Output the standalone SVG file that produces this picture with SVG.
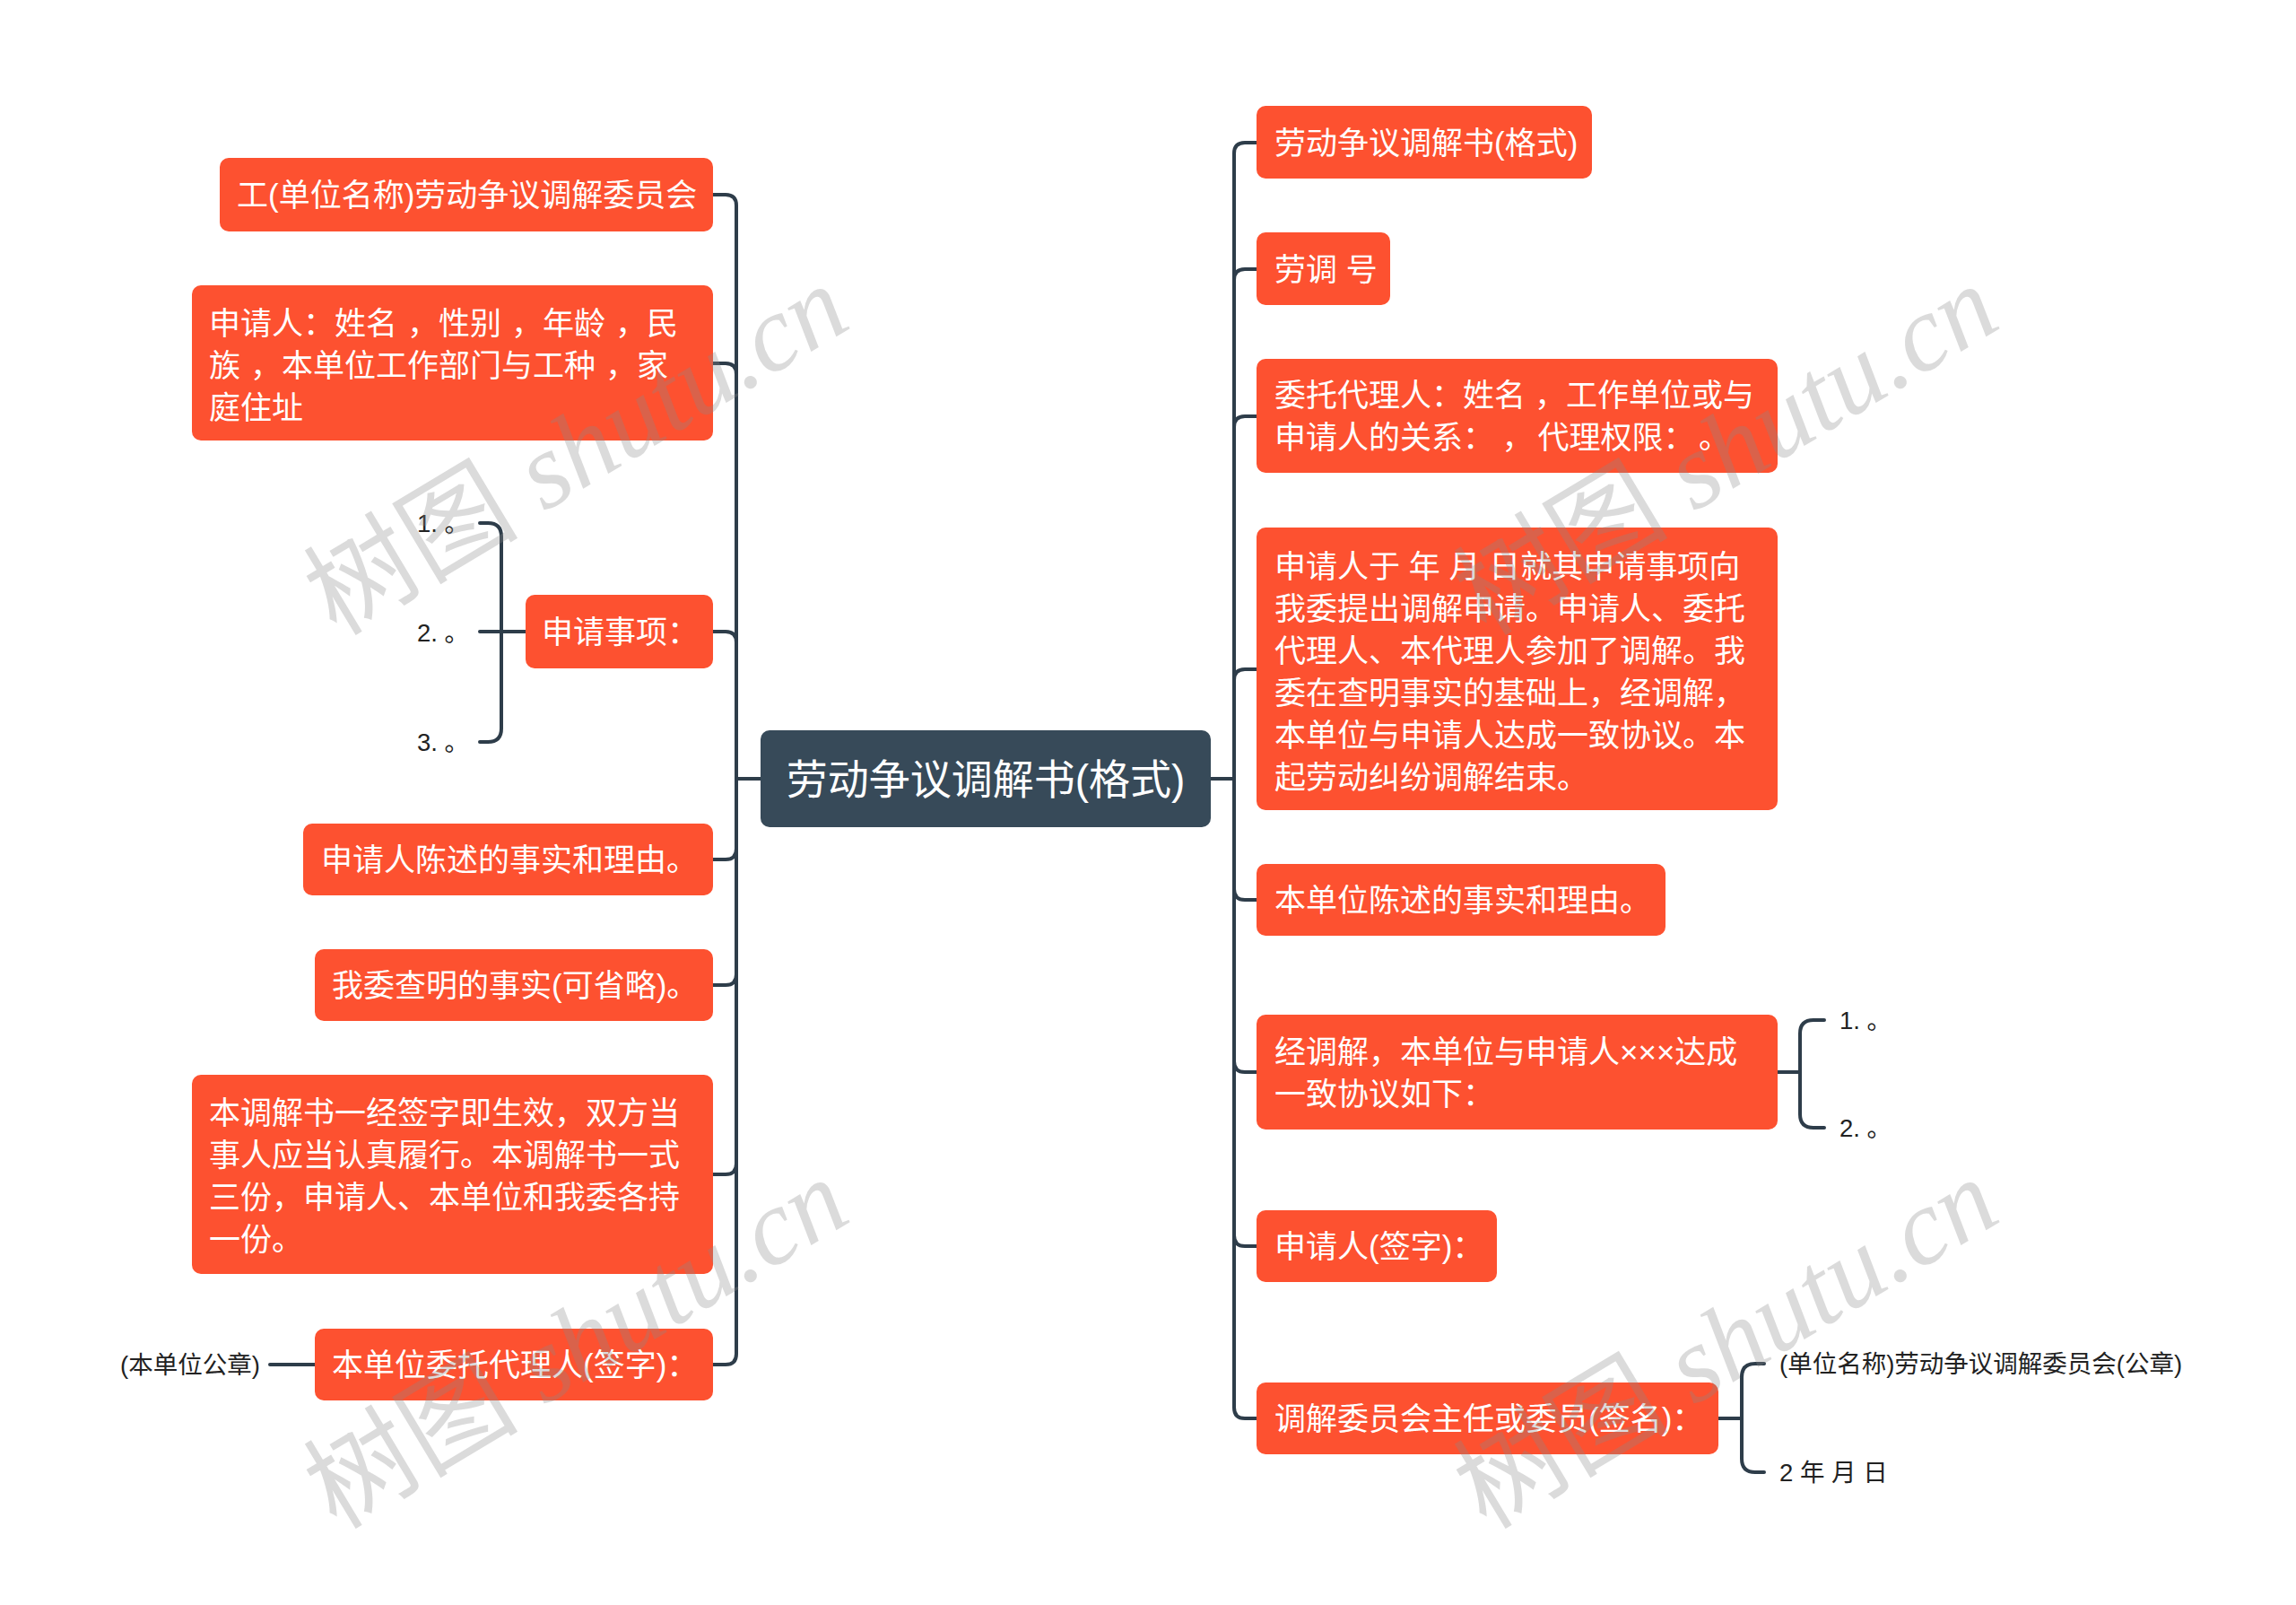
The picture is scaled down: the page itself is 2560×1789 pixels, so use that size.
<svg xmlns="http://www.w3.org/2000/svg" width="2560" height="1789" viewBox="0 0 2560 1789">
<style>
.box{fill:#fd5130;}
.root{fill:#374a59;}
.t{font-family:"Liberation Sans","Noto Sans CJK SC",sans-serif;font-size:35px;fill:#ffffff;}
.rt{font-family:"Liberation Sans","Noto Sans CJK SC",sans-serif;font-size:46px;fill:#ffffff;}
.s{font-family:"Liberation Sans","Noto Sans CJK SC",sans-serif;font-size:27.5px;fill:#222222;}
.c{fill:none;stroke:#2e3d4a;stroke-width:4;stroke-linecap:round;stroke-linejoin:round;}
.wm{font-family:"Liberation Serif","Noto Sans CJK SC",serif;font-size:120px;fill:#8a8a8a;opacity:0.3;}
</style>
<rect width="2560" height="1789" fill="#ffffff"/>
<g id="connectors">
  <path class="c" d="M848 868 H821"/>
  <path class="c" d="M821 868 V229 Q821 217 809 217 H795"/>
  <path class="c" d="M821 868 V417 Q821 405 809 405 H795"/>
  <path class="c" d="M821 868 V716 Q821 704 809 704 H795"/>
  <path class="c" d="M821 868 V946 Q821 958 809 958 H795"/>
  <path class="c" d="M821 868 V1086 Q821 1098 809 1098 H795"/>
  <path class="c" d="M821 868 V1297 Q821 1309 809 1309 H795"/>
  <path class="c" d="M821 868 V1509 Q821 1521 809 1521 H795"/>
  <path class="c" d="M586 704 H535"/>
  <path class="c" d="M535 583 H544 Q559 583 559 598 V812 Q559 827 544 827 H535"/>
  <path class="c" d="M351 1521 H301"/>
  <path class="c" d="M1350 868 H1376"/>
  <path class="c" d="M1376 868 V171 Q1376 159 1388 159 H1401"/>
  <path class="c" d="M1376 868 V312 Q1376 300 1388 300 H1401"/>
  <path class="c" d="M1376 868 V476 Q1376 464 1388 464 H1401"/>
  <path class="c" d="M1376 868 V758 Q1376 746 1388 746 H1401"/>
  <path class="c" d="M1376 868 V991 Q1376 1003 1388 1003 H1401"/>
  <path class="c" d="M1376 868 V1183 Q1376 1195 1388 1195 H1401"/>
  <path class="c" d="M1376 868 V1377 Q1376 1389 1388 1389 H1401"/>
  <path class="c" d="M1376 868 V1569 Q1376 1581 1388 1581 H1401"/>
  <path class="c" d="M1982 1195 H2007"/>
  <path class="c" d="M2034 1137 H2022 Q2007 1137 2007 1152 V1242 Q2007 1257 2022 1257 H2034"/>
  <path class="c" d="M1916 1581 H1942"/>
  <path class="c" d="M1967 1520 H1957 Q1942 1520 1942 1535 V1626 Q1942 1641 1957 1641 H1967"/>
</g>
<g id="root">
  <rect class="root" x="848" y="814" width="502" height="108" rx="10"/>
  <text class="rt" x="1099" y="885" text-anchor="middle">劳动争议调解书(格式)</text>
</g>
<g id="L1">
  <rect class="box" x="245" y="176" width="550" height="82" rx="10"/>
  <text class="t" x="264" y="230">工(单位名称)劳动争议调解委员会</text>
</g>
<g id="L2">
  <rect class="box" x="214" y="318" width="581" height="173" rx="10"/>
  <text class="t" x="233" y="373">申请人：姓名<tspan dx="11">，</tspan>性别<tspan dx="11">，</tspan>年龄<tspan dx="11">，</tspan>民</text>
  <text class="t" x="233" y="420">族<tspan dx="11">，</tspan>本单位工作部门与工种<tspan dx="11">，</tspan>家</text>
  <text class="t" x="233" y="467">庭住址</text>
</g>
<g id="L3">
  <rect class="box" x="586" y="663" width="209" height="82" rx="10"/>
  <text class="t" x="604" y="717">申请事项：</text>
</g>
<g id="L3a"><text class="s" x="465" y="593">1. 。</text></g>
<g id="L3b"><text class="s" x="465" y="715">2. 。</text></g>
<g id="L3c"><text class="s" x="465" y="837">3. 。</text></g>
<g id="L4">
  <rect class="box" x="338" y="918" width="457" height="80" rx="10"/>
  <text class="t" x="358" y="971">申请人陈述的事实和理由。</text>
</g>
<g id="L5">
  <rect class="box" x="351" y="1058" width="444" height="80" rx="10"/>
  <text class="t" x="370" y="1111">我委查明的事实(可省略)。</text>
</g>
<g id="L6">
  <rect class="box" x="214" y="1198" width="581" height="222" rx="10"/>
  <text class="t" x="233" y="1253">本调解书一经签字即生效，双方当</text>
  <text class="t" x="233" y="1300">事人应当认真履行。本调解书一式</text>
  <text class="t" x="233" y="1347">三份，申请人、本单位和我委各持</text>
  <text class="t" x="233" y="1394">一份。</text>
</g>
<g id="L7">
  <rect class="box" x="351" y="1481" width="444" height="80" rx="10"/>
  <text class="t" x="370" y="1534">本单位委托代理人(签字)：</text>
</g>
<g id="L7a"><text class="s" x="134" y="1531">(本单位公章)</text></g>
<g id="R1">
  <rect class="box" x="1401" y="118" width="374" height="81" rx="10"/>
  <text class="t" x="1421" y="172">劳动争议调解书(格式)</text>
</g>
<g id="R2">
  <rect class="box" x="1401" y="259" width="149" height="81" rx="10"/>
  <text class="t" x="1421" y="313">劳调 号</text>
</g>
<g id="R3">
  <rect class="box" x="1401" y="400" width="581" height="127" rx="10"/>
  <text class="t" x="1421" y="453">委托代理人：姓名<tspan dx="10">，</tspan>工作单位或与</text>
  <text class="t" x="1421" y="500">申请人的关系：<tspan dx="26">，</tspan><tspan dx="5">代理权限：</tspan><tspan dx="22">。</tspan></text>
</g>
<g id="R4">
  <rect class="box" x="1401" y="588" width="581" height="315" rx="10"/>
  <text class="t" x="1421" y="644">申请人于 年 月 日就其申请事项向</text>
  <text class="t" x="1421" y="691">我委提出调解申请。申请人、委托</text>
  <text class="t" x="1421" y="738">代理人、本代理人参加了调解。我</text>
  <text class="t" x="1421" y="785">委在查明事实的基础上，经调解，</text>
  <text class="t" x="1421" y="832">本单位与申请人达成一致协议。本</text>
  <text class="t" x="1421" y="879">起劳动纠纷调解结束。</text>
</g>
<g id="R5">
  <rect class="box" x="1401" y="963" width="456" height="80" rx="10"/>
  <text class="t" x="1421" y="1016">本单位陈述的事实和理由。</text>
</g>
<g id="R6">
  <rect class="box" x="1401" y="1131" width="581" height="128" rx="10"/>
  <text class="t" x="1421" y="1185">经调解，本单位与申请人×××达成</text>
  <text class="t" x="1421" y="1232">一致协议如下：</text>
</g>
<g id="R6a"><text class="s" x="2051" y="1147">1. 。</text></g>
<g id="R6b"><text class="s" x="2051" y="1267">2. 。</text></g>
<g id="R7">
  <rect class="box" x="1401" y="1349" width="268" height="80" rx="10"/>
  <text class="t" x="1421" y="1402">申请人(签字)：</text>
</g>
<g id="R8">
  <rect class="box" x="1401" y="1541" width="515" height="80" rx="10"/>
  <text class="t" x="1421" y="1594">调解委员会主任或委员(签名)：</text>
</g>
<g id="R8a"><text class="s" x="1984" y="1530">(单位名称)劳动争议调解委员会(公章)</text></g>
<g id="R8b"><text class="s" x="1984" y="1651">2 年 月 日</text></g>
<g id="watermark">
  <text class="wm" transform="translate(375 710) rotate(-31)">树图 <tspan font-style="italic">shutu.cn</tspan></text>
  <text class="wm" transform="translate(1657 710) rotate(-31)">树图 <tspan font-style="italic">shutu.cn</tspan></text>
  <text class="wm" transform="translate(375 1706) rotate(-31)">树图 <tspan font-style="italic">shutu.cn</tspan></text>
  <text class="wm" transform="translate(1657 1706) rotate(-31)">树图 <tspan font-style="italic">shutu.cn</tspan></text>
</g>
</svg>
